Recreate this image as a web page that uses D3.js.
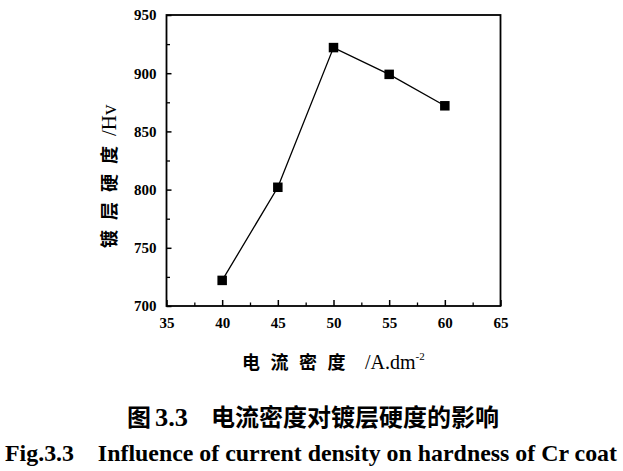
<!DOCTYPE html>
<html><head><meta charset="utf-8">
<script src="https://cdn.jsdelivr.net/npm/d3@7/dist/d3.min.js"></script>
<style>
body{margin:0;background:#fff;}
svg{display:block;}
</style></head>
<body>
<svg id="c" width="623" height="471"></svg>
<script>
const currentDensity = [40, 45, 50, 55, 60];
const hardness = [722, 802, 922, 899, 872];
const xTicks = [35, 40, 45, 50, 55, 60, 65];
const yTicks = [700, 750, 800, 850, 900, 950];
const xMinor = [37.5, 42.5, 47.5, 52.5, 57.5, 62.5];
const yMinor = [725, 775, 825, 875, 925];
const yLabelCN = "镀层硬度";
const yLabelUnit = "/Hv";
const xLabelCN = "电流密度";
const xLabelUnit = "/A.dm";
const xLabelSup = "-2";
const captionCN = ["图", "3.3", "电流密度对镀层硬度的影响"];
const captionEN = "Fig.3.3    Influence of current density on hardness of Cr coat";

const svg = d3.select("#c");
const x = d3.scaleLinear().domain([35, 65]).range([166.5, 500.5]);
const y = d3.scaleLinear().domain([700, 950]).range([306, 15]);
const serif = "'Liberation Serif','Times New Roman',serif";
const cjk = "'Noto Sans CJK SC','Noto Sans CJK JP',sans-serif";

// frame
svg.append("rect").attr("x", x(35)).attr("y", y(950))
  .attr("width", x(65) - x(35)).attr("height", y(700) - y(950))
  .attr("fill", "none").attr("stroke", "#000").attr("stroke-width", 1.8);

function styleTicks(g) {
  g.attr("font-family", serif);
  g.select(".domain").remove();
  g.selectAll("line").attr("stroke-width", 1.5);
  g.selectAll("text").style("font-family", serif).style("font-weight", "bold")
    .style("font-size", "15px").attr("fill", "#000");
}

// x axis
svg.append("g").attr("transform", `translate(0,${y(700)})`)
  .call(d3.axisBottom(x).tickValues(xTicks).tickSizeInner(-6).tickSizeOuter(0).tickPadding(11).tickFormat(d3.format("d")))
  .call(styleTicks);
svg.append("g").attr("transform", `translate(0,${y(700)})`)
  .call(d3.axisBottom(x).tickValues(xMinor).tickSizeInner(-3.5).tickSizeOuter(0).tickFormat(""))
  .call(g => g.select(".domain").remove())
  .selectAll("line").attr("stroke-width", 1.3);

// y axis
svg.append("g").attr("transform", `translate(${x(35)},0)`)
  .call(d3.axisLeft(y).tickValues(yTicks).tickSizeInner(-5).tickSizeOuter(0).tickPadding(10).tickFormat(d3.format("d")))
  .call(styleTicks);
svg.append("g").attr("transform", `translate(${x(35)},0)`)
  .call(d3.axisLeft(y).tickValues(yMinor).tickSizeInner(-3.5).tickSizeOuter(0).tickFormat(""))
  .call(g => g.select(".domain").remove())
  .selectAll("line").attr("stroke-width", 1.3);

// line + markers
const data = currentDensity.map((d, i) => ({x: d, y: hardness[i]}));
svg.append("path").datum(data)
  .attr("d", d3.line().x(d => x(d.x)).y(d => y(d.y)))
  .attr("fill", "none").attr("stroke", "#000").attr("stroke-width", 1.3);
svg.selectAll("rect.m").data(data).enter().append("rect").attr("class", "m")
  .attr("x", d => x(d.x) - 4.75).attr("y", d => y(d.y) - 4.75)
  .attr("width", 9.5).attr("height", 9.5).attr("fill", "#000");

// y label
const yl = svg.append("text").attr("transform", `translate(116,248) rotate(-90)`)
  .attr("fill", "#000");
yl.append("tspan").style("font-family", cjk).style("font-weight", "bold")
  .style("font-size", "18px").style("letter-spacing", "10px").text(yLabelCN);
yl.append("tspan").style("font-family", serif).style("font-size", "21px").text(yLabelUnit);

// x label
const xl = svg.append("text").attr("x", 242).attr("y", 369).attr("fill", "#000");
xl.append("tspan").style("font-family", cjk).style("font-weight", "bold")
  .style("font-size", "18px").style("letter-spacing", "10.5px").text(xLabelCN);
xl.append("tspan").attr("dx", 9).style("font-family", serif).style("font-size", "20px").text(xLabelUnit);
xl.append("tspan").attr("dy", -9).style("font-family", serif).style("font-size", "11px").text(xLabelSup);

// captions
const c1 = svg.append("text").attr("y", 426).attr("fill", "#000").style("font-weight", "bold");
c1.append("tspan").attr("x", 127).style("font-family", cjk).style("font-size", "24px").text(captionCN[0]);
c1.append("tspan").attr("x", 155).style("font-family", serif).style("font-size", "26px")
  .attr("textLength", 33).attr("lengthAdjust", "spacingAndGlyphs").text(captionCN[1]);
c1.append("tspan").attr("x", 211).style("font-family", cjk).style("font-size", "24px").text(captionCN[2]);

svg.append("text").attr("x", 5).attr("y", 461)
  .style("font-family", serif).style("font-weight", "bold").style("font-size", "23.5px")
  .attr("textLength", 612).attr("lengthAdjust", "spacingAndGlyphs")
  .style("white-space", "pre").attr("fill", "#000").text(captionEN);
</script>
</body></html>
